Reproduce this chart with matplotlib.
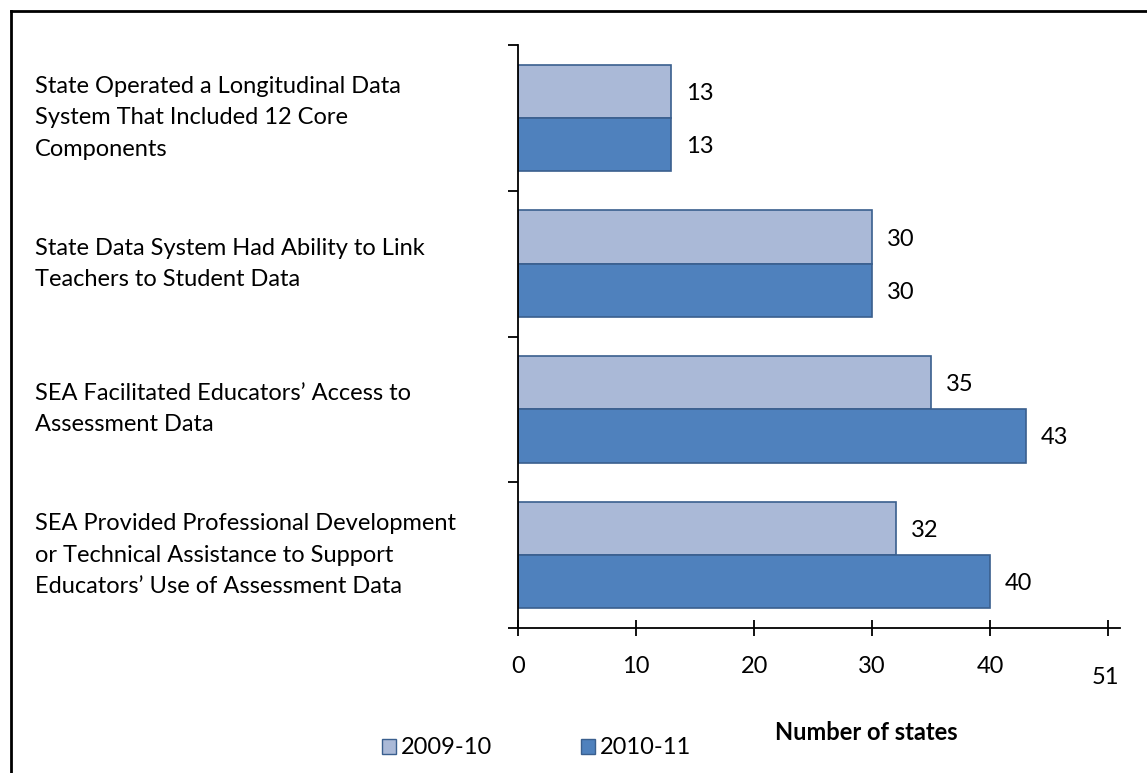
import matplotlib
matplotlib.use("Agg")
import matplotlib.pyplot as plt
from matplotlib.patches import Patch
from matplotlib.lines import Line2D

categories = [
    "State Operated a Longitudinal Data\nSystem That Included 12 Core\nComponents",
    "State Data System Had Ability to Link\nTeachers to Student Data",
    "SEA Facilitated Educators\u2019 Access to\nAssessment Data",
    "SEA Provided Professional Development\nor Technical Assistance to Support\nEducators\u2019 Use of Assessment Data",
]
series_names = ["2009-10", "2010-11"]
values_2009 = [13, 30, 35, 32]
values_2010 = [13, 30, 43, 40]
xticks = [0, 10, 20, 30, 40, 50]
xtick_labels = ["0", "10", "20", "30", "40", ""]
last_tick_label = "51"

plt.rcParams['font.family'] = ['Lato', 'DejaVu Sans']
FS = 17

W, H = 1147, 773
fig = plt.figure(figsize=(W / 100, H / 100), dpi=100)
light = "#AAB9D7"
dark = "#4F81BD"
edge = "#3A5F8E"

ax = fig.add_axes([518 / W, 1 - 628 / H, (1120 - 518) / W, (628 - 45) / H])
n = len(categories)
bh = 0.365
for i in range(n):
    yc = i
    ax.barh(yc - bh / 2, values_2009[i], height=bh, color=light, edgecolor=edge, linewidth=1.2)
    ax.barh(yc + bh / 2, values_2010[i], height=bh, color=dark, edgecolor=edge, linewidth=1.2)
    ax.annotate(str(values_2009[i]), (values_2009[i], yc - bh / 2), xytext=(15, -2),
                textcoords="offset pixels", va="center", ha="left", fontsize=FS)
    ax.annotate(str(values_2010[i]), (values_2010[i], yc + bh / 2), xytext=(15, -2),
                textcoords="offset pixels", va="center", ha="left", fontsize=FS)

ax.set_xlim(0, 51)
ax.set_ylim(n - 0.5, -0.5)
for s in ["top", "right"]:
    ax.spines[s].set_visible(False)
ax.spines["left"].set_linewidth(1.3)
ax.spines["bottom"].set_linewidth(1.3)
ax.set_xticks(xticks)
ax.set_xticklabels(xtick_labels, fontsize=FS)
ax.tick_params(axis="x", direction="inout", length=12, width=1.3, pad=14)
ax.annotate(last_tick_label, (xticks[-1], 0), xycoords=("data", "axes fraction"),
            xytext=(-3, -50), textcoords="offset pixels", ha="center", va="center", fontsize=FS)
ax.set_yticks([i - 0.5 for i in range(n + 1)])
ax.set_yticklabels([])
ax.tick_params(axis="y", direction="out", length=7, width=1.3)

for i, c in enumerate(categories):
    yc_px = 45 + (628 - 45) * (i + 0.5) / n
    fig.text(35 / W, 1 - yc_px / H, c, ha="left", va="center", fontsize=FS, linespacing=1.6)

fig.text(866 / W, 1 - 733 / H, "Number of states", ha="center", va="center", fontsize=FS, fontweight="bold")

handles = [Patch(facecolor=light, edgecolor=edge), Patch(facecolor=dark, edgecolor=edge)]
fig.legend(handles, series_names, loc="center left", bbox_to_anchor=(382 / W, 1 - 748 / H), ncol=2,
           frameon=False, fontsize=FS, handlelength=0.6, handleheight=0.6, handletextpad=0.2,
           columnspacing=3.75, borderpad=0, borderaxespad=0)

fig.add_artist(Line2D([11 / W, 11 / W], [0, 1 - 11 / H], color="black", linewidth=2, transform=fig.transFigure))
fig.add_artist(Line2D([11 / W, 1], [1 - 11 / H, 1 - 11 / H], color="black", linewidth=2, transform=fig.transFigure))

fig.savefig("out.png", dpi=100, facecolor="white")
